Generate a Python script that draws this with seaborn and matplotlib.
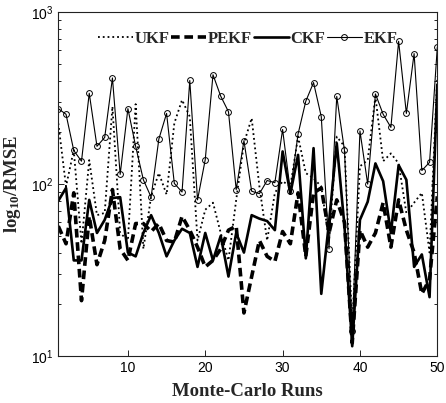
import numpy as np
import pandas as pd
import matplotlib
matplotlib.use("Agg")
import matplotlib.pyplot as plt
import seaborn as sns

runs = list(range(1, 51))

ukf = [226, 97, 158, 45, 138, 66, 68, 283, 52, 47,
       292, 42, 85, 116, 87, 226, 309, 247, 47, 71,
       78, 52, 36, 81, 173, 242, 97, 47, 89, 104,
       97, 189, 116, 108, 97, 47, 189, 166, 15, 127,
       138, 324, 136, 151, 132, 68, 78, 89, 40, 423]

pekf = [57, 45, 89, 21, 65, 34, 47, 93, 42, 36,
        59, 59, 53, 59, 47, 46, 65, 54, 43, 33,
        36, 42, 54, 57, 17.8, 29, 47, 38, 35.5, 53,
        45, 89, 38, 89, 95, 52, 81, 60, 11.9, 54,
        43, 52, 78, 43, 81, 54, 40, 23, 28, 85]

ckf = [80, 95, 36, 36, 81, 52, 62, 83, 84, 40,
       38, 52, 66, 52, 38, 47, 55, 52, 33, 52,
       36, 50, 29, 52, 40, 66, 63, 61, 54, 155,
       88, 148, 37, 162, 23, 60, 173, 57, 11.4, 62,
       79, 132, 104, 52, 129, 106, 33, 39, 22, 380]

ekf = [275, 255, 157, 136, 338, 166, 187, 415, 114, 275,
       166, 106, 84, 183, 258, 101, 90, 401, 81, 139,
       433, 325, 264, 93, 179, 91, 88, 105, 102, 208,
       91, 196, 304, 390, 247, 42, 324, 157, 14, 204,
       100, 335, 255, 214, 678, 258, 575, 120, 134, 627]

labels = ["UKF", "PEKF", "CKF", "EKF"]

sns.set_style("ticks")
plt.rcParams["font.family"] = ["Liberation Sans", "DejaVu Sans"]
plt.rcParams["mathtext.fontset"] = "custom"
plt.rcParams["mathtext.rm"] = "Liberation Serif"
plt.rcParams["mathtext.it"] = "Liberation Serif:italic"
plt.rcParams["mathtext.bf"] = "Liberation Serif:bold"

fig = plt.figure(figsize=(4.46, 4.03), dpi=100)
ax = fig.add_axes([0.1307, 0.1166, 0.8498, 0.8529])

sns.lineplot(x=runs, y=ukf, ax=ax, color="black", linestyle=":", linewidth=1.3, label=labels[0])
sns.lineplot(x=runs, y=pekf, ax=ax, color="black", linestyle=(0, (2.4, 1.3)), linewidth=2.6, label=labels[1])
sns.lineplot(x=runs, y=ckf, ax=ax, color="black", linestyle="-", linewidth=1.9, label=labels[2])
sns.lineplot(x=runs, y=ekf, ax=ax, color="black", linestyle="-", linewidth=0.8, marker="o",
             markersize=4.2, markerfacecolor="none", markeredgecolor="black",
             markeredgewidth=0.7, label=labels[3])

ax.set_yscale("log")
ax.set_xlim(1, 50)
ax.set_ylim(10, 1000)
ax.set_xticks([10, 20, 30, 40, 50])
ax.tick_params(axis="both", which="both", direction="in", top=False, right=True,
               labelsize=10, width=0.7, colors="#222222", labelcolor="black")
ax.tick_params(axis="both", which="major", length=4)
ax.tick_params(axis="y", which="minor", length=2.5, left=True, right=True)
for s in ax.spines.values():
    s.set_linewidth(0.8)
    s.set_color("#222222")

ax.set_xlabel("Monte-Carlo Runs", family="Liberation Serif", fontsize=13.5, fontweight="bold", labelpad=6)
ax.set_ylabel("log$_{\\mathbf{10}}$/RMSE", family="Liberation Serif", fontsize=13.5, fontweight="bold", labelpad=6)

leg = ax.legend(loc="upper center", bbox_to_anchor=(0.5, 0.99), ncol=4, frameon=False,
                handlelength=2.1, handletextpad=0.1, columnspacing=0.1,
                prop={"family": "Liberation Serif", "weight": "bold", "size": 12})

fig.savefig("out.png", dpi=100)
